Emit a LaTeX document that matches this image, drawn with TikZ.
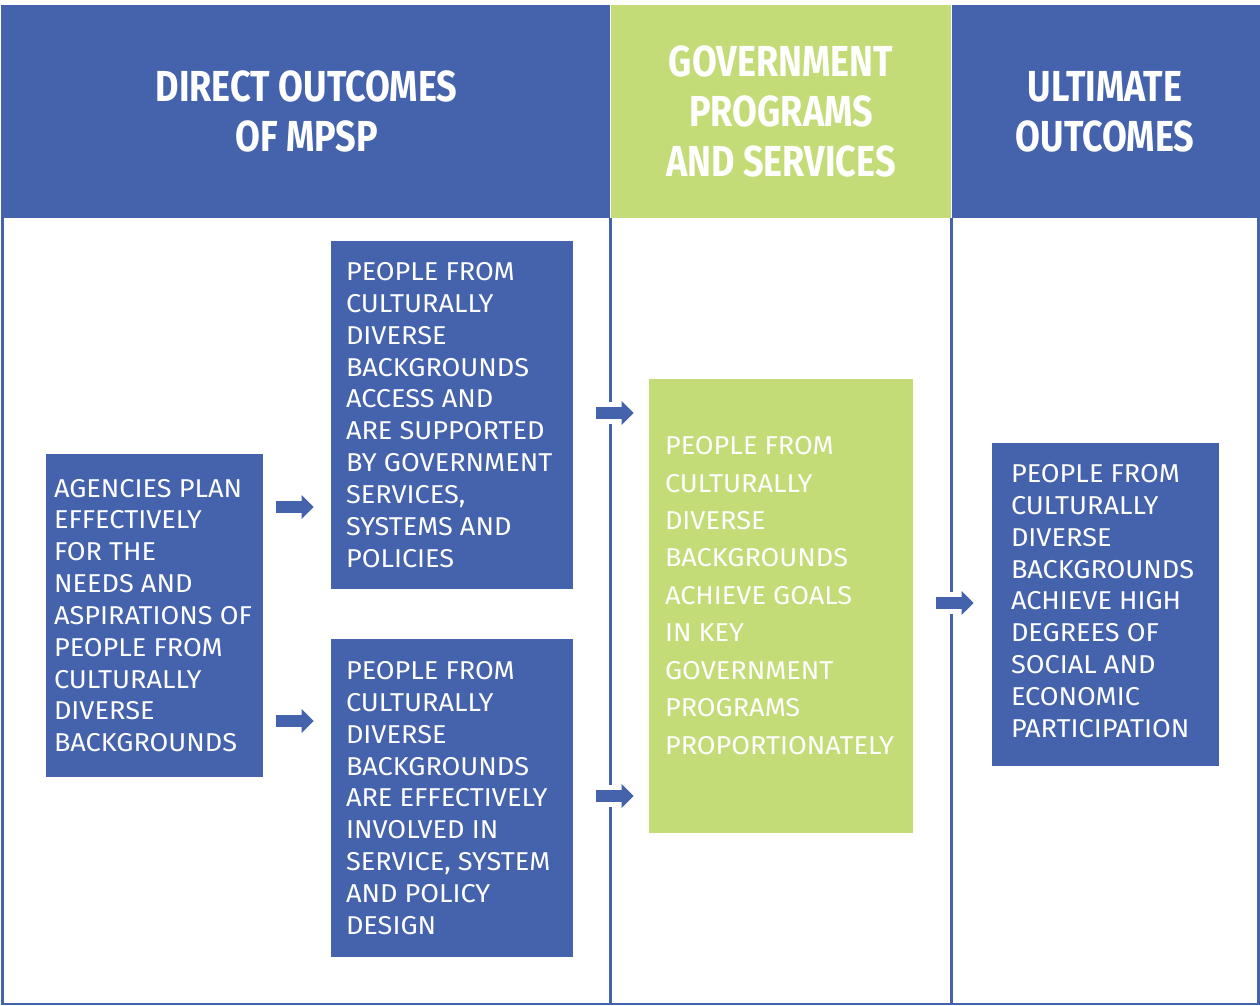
\documentclass[tikz,border=0pt]{standalone}
\usepackage{fontspec}
\usetikzlibrary{arrows.meta}
\newfontfamily\bodyfont[FakeStretch=1.05]{Fira Sans}
\newfontfamily\headfont[FakeStretch=0.83]{Fira Sans}
\definecolor{mpspblue}{HTML}{4562AD}
\definecolor{mpspgreen}{HTML}{C4DC78}
\begin{document}
\begin{tikzpicture}[x=0.02cm,y=-0.02cm,
    head/.style={fill=#1, inner sep=0pt, minimum height=4.26cm, align=center, text=white,
        font=\headfont\bfseries\fontsize{24.7}{28.4}\selectfont},
    box/.style={fill=#1, inner sep=0pt},
    boxtext/.style={anchor=west, inner sep=0pt, align=left, text=white,
        font=\bodyfont\fontsize{14.7}{18.1}\selectfont},
    divider/.style={draw=mpspblue, line width=1.6pt},
    blockarrow/.style={draw=mpspblue, line width=6.4pt,
        -{Triangle[length=6.8pt,width=13pt]},
        preaction={draw=white, line width=13pt, arrows=-}}]
    \useasboundingbox[fill=white] (0,0) rectangle (1260,1006);
    % column headings
    \node[head=mpspblue, minimum width=12.14cm] (direct) at (306.5,111.5) {DIRECT OUTCOMES\\OF MPSP};
    \node[head=mpspgreen, minimum width=6.8cm] (programs) at (781,111.5) {GOVERNMENT\\PROGRAMS\\AND SERVICES};
    \node[head=mpspblue, minimum width=6.12cm] (ultimate) at (1105,111.5) {ULTIMATE\\OUTCOMES};
    \coordinate (bottom) at (0,1004);
    \draw[divider] (direct.north west) |- (bottom -| ultimate.east) -- (ultimate.north east);
    \draw[divider] (direct.south east) -- (direct.south east |- bottom);
    \draw[divider] (ultimate.south west) -- (ultimate.south west |- bottom);
    % boxes
    \node[box=mpspblue, minimum width=4.34cm, minimum height=6.46cm] (agencies) at (154.5,615.5) {};
    \node[boxtext] (agencies-text) at ([xshift=0.16cm]agencies.west)
        {AGENCIES PLAN\\EFFECTIVELY\\FOR THE\\NEEDS AND\\ASPIRATIONS OF\\PEOPLE FROM\\CULTURALLY\\DIVERSE\\BACKGROUNDS};
    \node[box=mpspblue, minimum width=4.84cm, minimum height=6.96cm] (access) at (452,415) {};
    \node[boxtext] (access-text) at ([xshift=0.3cm]access.west)
        {PEOPLE FROM\\CULTURALLY\\DIVERSE\\BACKGROUNDS\\ACCESS AND\\ARE SUPPORTED\\BY GOVERNMENT\\SERVICES,\\SYSTEMS AND\\POLICIES};
    \node[box=mpspblue, minimum width=4.84cm, minimum height=6.36cm] (involved) at (452,798) {};
    \node[boxtext] (involved-text) at ([xshift=0.3cm]involved.west)
        {PEOPLE FROM\\CULTURALLY\\DIVERSE\\BACKGROUNDS\\ARE EFFECTIVELY\\INVOLVED IN\\SERVICE, SYSTEM\\AND POLICY\\DESIGN};
    \node[box=mpspgreen, minimum width=5.28cm, minimum height=9.08cm] (goals) at (781,606) {};
    \node[boxtext, font=\bodyfont\fontsize{14.7}{21.3}\selectfont] (goals-text) at ([xshift=0.32cm,yshift=0.21cm]goals.west)
        {PEOPLE FROM\\CULTURALLY\\DIVERSE\\BACKGROUNDS\\ACHIEVE GOALS\\IN KEY\\GOVERNMENT\\PROGRAMS\\PROPORTIONATELY};
    \node[box=mpspblue, minimum width=4.54cm, minimum height=6.46cm] (participation) at (1105.5,604.5) {};
    \node[boxtext] (participation-text) at ([xshift=0.38cm,yshift=0.07cm]participation.west)
        {PEOPLE FROM\\CULTURALLY\\DIVERSE\\BACKGROUNDS\\ACHIEVE HIGH\\DEGREES OF\\SOCIAL AND\\ECONOMIC\\PARTICIPATION};
    % arrows
    \draw[blockarrow, shorten <=0.26cm, shorten >=0.34cm] ([yshift=2.17cm]agencies.east) -- ([yshift=2.17cm]agencies.east -| access.west);
    \draw[blockarrow, shorten <=0.26cm, shorten >=0.34cm] ([yshift=-2.11cm]agencies.east) -- ([yshift=-2.11cm]agencies.east -| involved.west);
    \draw[blockarrow, shorten <=0.46cm, shorten >=0.3cm] ([yshift=0.04cm]access.east) -- ([yshift=0.04cm]access.east -| goals.west);
    \draw[blockarrow, shorten <=0.46cm, shorten >=0.3cm] ([yshift=0.04cm]involved.east) -- ([yshift=0.04cm]involved.east -| goals.west);
    \draw[blockarrow, shorten <=0.46cm, shorten >=0.36cm] ([yshift=0.03cm]participation.west -| goals.east) -- ([yshift=0.03cm]participation.west);
\end{tikzpicture}
\end{document}
